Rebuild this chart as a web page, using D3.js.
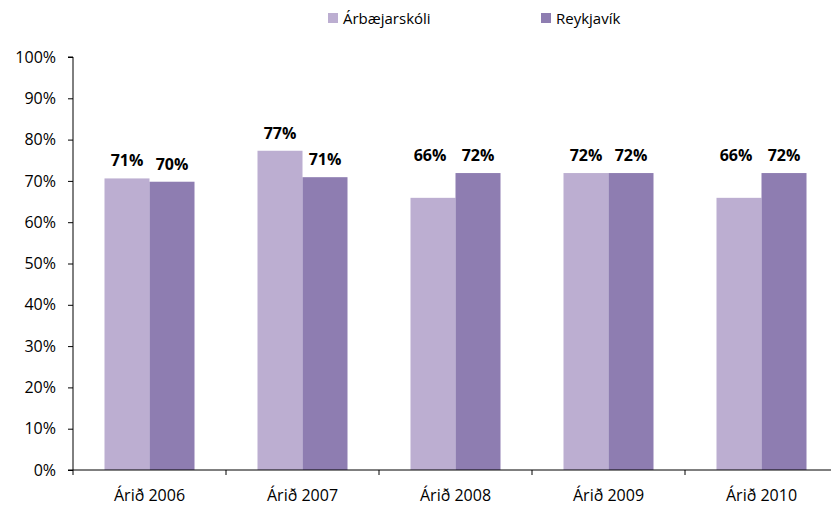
<!DOCTYPE html>
<html>
<head>
<meta charset="utf-8">
<script src="https://cdn.jsdelivr.net/npm/d3@7"></script>
<style>
  body { margin: 0; background: #fff; }
  text { font-family: "Open Sans", "Noto Sans", sans-serif; fill: #000; }
</style>
</head>
<body>
<script>
// gögn
var flokkar = ["Árið 2006", "Árið 2007", "Árið 2008", "Árið 2009", "Árið 2010"];
var radir = ["Árbæjarskóli", "Reykjavík"];
var arbaejarskoli = [70.6, 77.3, 65.9, 71.9, 65.9];
var reykjavik = [69.8, 70.9, 71.9, 71.9, 71.9];
var yTikk = [0, 10, 20, 30, 40, 50, 60, 70, 80, 90, 100];
var litir = ["#bcaed1", "#8e7db1"];

var width = 831;
var height = 511;
var margen = { arriba: 57, abajo: 41, izquierda: 73, derecha: -7 };

var gogn = flokkar.map(function (f, i) {
    return { flokkur: f, gildi: [arbaejarskoli[i], reykjavik[i]] };
});

var svg = d3.select("body").append("svg")
    .attr("width", width)
    .attr("height", height);

var escalaX = d3.scaleBand()
    .domain(flokkar)
    .range([margen.izquierda, width - margen.derecha]);

var escalaX1 = d3.scaleBand()
    .domain([0, 1])
    .range([0, escalaX.bandwidth()])
    .paddingOuter(0.7);

var escalaY = d3.scaleLinear()
    .domain([0, 100])
    .range([height - margen.abajo, margen.arriba]);

// súlur
var hopar = svg.selectAll("g.hopur")
    .data(gogn)
    .join("g")
    .attr("class", "hopur")
    .attr("transform", d => "translate(" + escalaX(d.flokkur) + ",0)");

hopar.selectAll("rect")
    .data(d => d.gildi.map((v, j) => ({ v: v, j: j, annad: d.gildi[1 - j] })))
    .join("rect")
    .attr("x", d => escalaX1(d.j))
    .attr("width", escalaX1.bandwidth())
    .attr("y", d => escalaY(d.v))
    .attr("height", d => escalaY(0) - escalaY(d.v))
    .attr("fill", d => litir[d.j]);

// merkingar á súlum
hopar.selectAll("text.merki")
    .data(d => d.gildi.map((v, j) => ({ v: v, j: j, annad: d.gildi[1 - j] })))
    .join("text")
    .attr("class", "merki")
    .attr("text-anchor", "middle")
    .attr("x", function (d) {
        var x = escalaX1(d.j) + escalaX1.bandwidth() / 2;
        if (d.j === 0 && d.annad - d.v > 2) x -= 3;
        return x;
    })
    .attr("y", function (d) {
        var v = d.v;
        if (d.j === 0 && d.annad - d.v > 2) v = d.annad;
        return escalaY(v) - 12;
    })
    .style("font-size", "16px")
    .style("font-weight", "bold")
    .text(d => Math.round(d.v) + "%");

// ásar
var ejeY = d3.axisLeft(escalaY)
    .tickValues(yTikk)
    .tickSize(5)
    .tickPadding(12)
    .tickFormat(d => d + "%");
var gY = svg.append("g")
    .attr("transform", "translate(" + margen.izquierda + ",0)")
    .call(ejeY);
gY.select(".domain").attr("d", "M-5," + escalaY(100) + "H0V" + escalaY(0));
gY.selectAll("text").style("font-size", "16px").style("font-family", "'Open Sans', sans-serif");

var ejeX = d3.axisBottom(escalaX).tickSize(0).tickPadding(20);
var gX = svg.append("g")
    .attr("transform", "translate(0," + escalaY(0) + ")")
    .call(ejeX);
gX.select(".domain").attr("d", "M" + (margen.izquierda - 5) + ",0H" + (width - margen.derecha));
gX.selectAll("text").style("font-size", "16px").style("font-family", "'Open Sans', sans-serif");
gX.selectAll("line.skil")
    .data(flokkar)
    .join("line")
    .attr("class", "skil")
    .attr("x1", d => escalaX(d))
    .attr("x2", d => escalaX(d))
    .attr("y1", 0)
    .attr("y2", 5)
    .attr("stroke", "#000");

// skýringar
var skyring = svg.append("g").attr("class", "skyring");
var skyringX = [328, 541];
radir.forEach(function (r, j) {
    skyring.append("rect")
        .attr("x", skyringX[j])
        .attr("y", 13)
        .attr("width", 10)
        .attr("height", 10)
        .attr("fill", litir[j]);
    skyring.append("text")
        .attr("x", skyringX[j] + 15)
        .attr("y", 24)
        .style("font-size", "15px")
        .text(r);
});
</script>
</body>
</html>
